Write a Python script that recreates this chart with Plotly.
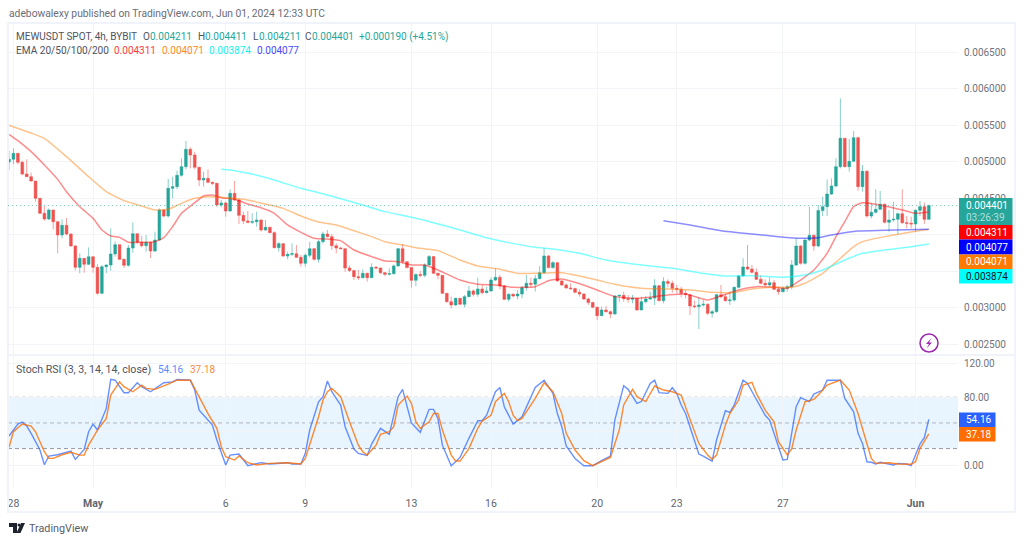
import pandas as pd
import plotly.graph_objects as go

W, H = 1024, 543
FONT = "Roboto"

# prices are in millionths of USDT
first_open = 4998
close = [5035,5117,4993,4833,4797,4737,4500,4294,4216,4340,
4179,3997,4129,4010,3846,3553,3676,3594,3699,3553,
3196,3562,3585,3736,3864,3663,3580,3818,4015,3896,
3850,3896,3777,3928,4340,4257,4637,4660,4815,4934,
5172,5094,4925,4751,4774,4719,4705,4408,4436,4326,
4568,4477,4266,4189,4170,4179,4202,4065,4102,4029,
3823,3878,3708,3731,3740,3690,3608,3718,3809,3663,
3905,4010,3974,3850,3818,3809,3544,3508,3425,3411,
3471,3411,3553,3544,3480,3457,3466,3572,3809,3631,
3549,3375,3453,3443,3585,3700,3471,3443,3197,3082,
3037,3128,3046,3151,3229,3183,3256,3206,3229,3379,
3416,3297,3114,3183,3160,3187,3274,3334,3320,3398,
3480,3709,3549,3617,3366,3311,3270,3261,3210,3187,
3119,3069,3005,2890,2968,2945,2913,3160,3169,3123,
3114,3128,2968,3082,3119,3132,3302,3096,3357,3334,
3265,3251,3196,3178,3023,3014,3036,3046,2922,2945,
3178,3151,3096,3105,3279,3434,3558,3530,3484,3388,
3334,3311,3343,3251,3219,3265,3288,3585,3846,3608,
3928,3992,3846,4331,4385,4559,4669,4934,5323,4934,
5007,5332,4660,4870,4257,4308,4349,4417,4170,4203,
4212,4289,4166,4157,4148,4335,4385,4211,4401]
high = [5153,5185,5117,5016,5035,4852,4737,4500,4394,4362,
4340,4184,4211,4230,4019,3859,3745,3676,3827,3699,
3599,3585,3594,4088,3905,3864,3676,3859,4170,4015,
3983,3996,3896,4042,4362,4349,4765,4797,4879,5048,
5286,5199,5140,4934,4865,4897,4728,4714,4477,4454,
4623,4737,4500,4317,4326,4294,4317,4211,4202,4111,
4047,3900,3882,3768,3882,3859,3722,3745,3905,3818,
3928,4042,4065,4010,3882,3837,3814,3581,3517,3517,
3526,3480,3608,3572,3549,3489,3540,3594,3818,3873,
3631,3549,3471,3503,3608,3722,3700,3480,3443,3197,
3151,3137,3128,3174,3297,3252,3411,3311,3288,3416,
3540,3448,3311,3197,3197,3242,3297,3448,3411,3448,
3572,3823,3722,3640,3626,3379,3334,3334,3274,3252,
3197,3137,3082,3014,3014,3023,2959,3174,3172,3219,
3174,3174,3128,3151,3160,3219,3390,3311,3416,3388,
3370,3311,3288,3242,3187,3096,3142,3105,3059,2968,
3187,3311,3187,3219,3288,3448,3677,3860,3585,3539,
3448,3388,3416,3379,3288,3288,3311,3654,3951,3855,
3937,4385,4001,4408,4523,4760,4774,5049,5872,5323,
5314,5424,5346,4957,4888,4440,4623,4600,4431,4340,
4454,4303,4623,4257,4248,4349,4463,4440,4411]
low = [4888,4966,4966,4815,4797,4728,4454,4285,4193,4202,
4074,3745,3951,3992,3836,3507,3471,3480,3585,3480,
3178,3187,3471,3507,3699,3654,3544,3562,3754,3873,
3827,3768,3681,3763,3919,4239,4239,4500,4623,4797,
4897,4911,4897,4669,4660,4705,4682,4385,4376,4248,
4317,4467,4147,4147,4157,4147,4111,4042,4056,4019,
3814,3768,3699,3663,3708,3681,3562,3562,3690,3644,
3617,3882,3964,3791,3745,3800,3494,3489,3379,3379,
3402,3357,3411,3526,3462,3434,3443,3453,3562,3608,
3540,3274,3297,3416,3416,3576,3462,3389,3187,3069,
2991,3023,3037,3005,3142,3151,3151,3183,3197,3220,
3366,3252,3105,3082,3142,3114,3128,3233,3279,3220,
3389,3462,3540,3535,3357,3297,3261,3242,3197,3151,
3105,3037,2991,2831,2886,2931,2854,2904,3082,3082,
3069,3059,2959,2968,3059,3105,3036,3087,3059,3279,
3206,3197,3142,3128,2899,2991,2707,3014,2899,2863,
2931,3128,3082,3036,3082,3265,3425,3517,3471,3379,
3320,3288,3288,3242,3174,3210,3219,3251,3571,3590,
3590,3910,3782,3828,4257,4257,4545,4651,4911,4925,
4866,5003,4605,4591,4235,4225,4294,4340,4157,4042,
4180,4001,4148,4088,4088,4042,4257,4148,4211]

ema20_bars = [0,2,5,8,11,13,16,19,21,23,25,27,29,31,33,35,37,39,42,44,46,48,51,54,57,60,63,66,69,73,75,78,82,85,88,91,94,97,102,106,110,114,119,122,125,128,133,137,142,149,153,158,161,165,169,173,176,179,182,185,187,189,191,193,197,202,205,208]
ema20_vals = [5378,5291,5140,4957,4760,4591,4385,4225,4065,3983,3964,3896,3896,3896,3905,3960,4111,4294,4440,4532,4545,4509,4486,4422,4371,4294,4134,4033,3951,3937,3919,3791,3700,3640,3631,3585,3585,3517,3379,3320,3311,3279,3288,3370,3393,3348,3242,3151,3128,3174,3187,3105,3160,3242,3288,3279,3265,3379,3516,3745,3974,4180,4386,4440,4408,4340,4294,4311]
ema50_bars = [0,3,5,8,13,18,22,26,30,33,36,39,42,45,49,53,58,62,66,70,74,78,82,85,89,93,97,102,106,111,115,120,125,129,133,137,143,149,154,159,164,168,173,177,180,184,188,191,193,198,203,208]
ema50_vals = [5502,5437,5395,5323,5071,4797,4591,4468,4394,4340,4349,4431,4500,4522,4509,4486,4422,4362,4257,4175,4134,4056,3974,3905,3860,3814,3782,3654,3572,3526,3471,3471,3480,3434,3379,3320,3265,3256,3242,3210,3210,3256,3279,3279,3334,3471,3677,3837,3905,3974,4029,4071]
ema100_bars = [48,51,55,60,66,70,76,80,85,91,96,102,108,113,119,123,129,135,143,150,156,162,168,175,180,184,189,193,198,203,208]
ema100_vals = [4897,4879,4833,4751,4637,4577,4477,4408,4317,4239,4166,4065,3960,3892,3828,3805,3745,3654,3585,3539,3480,3434,3439,3416,3448,3517,3654,3745,3791,3828,3874]
ema200_bars = [148,154,161,168,174,179,183,186,192,198,208]
ema200_vals = [4193,4134,4056,4010,3974,3951,3960,3997,4052,4061,4077]

k_bars = [0,2,3,4,5,7,8,9,11,14,15,17,18,19,20,22,23,24,26,27,29,30,32,35,37,38,41,42,43,45,46,47,49,50,52,54,57,59,63,64,66,67,68,70,71,72,73,75,76,78,79,81,82,84,85,86,88,89,91,93,95,96,97,98,100,102,104,106,107,108,110,111,112,114,116,118,119,121,123,124,125,126,128,130,132,134,136,137,139,140,142,143,145,146,147,149,150,151,152,153,156,157,159,160,162,163,164,166,167,171,172,175,176,178,179,181,182,184,185,188,189,191,192,193,194,195,196,197,200,201,203,204,206,207,208]
k_vals = [34.7,48.7,51,46.4,37.8,18.3,1.1,11.3,12.8,17,7.4,19,39.7,48.7,41.7,67,101,100,85.4,85.4,97,92.4,86.5,97,98,101,100,88.5,65,53.4,47.5,30,0.8,12.4,13.6,0,3.5,2,3.5,2,2,14.4,41.7,74.8,80.7,99,86.5,71,45.6,19.5,14.4,12,25.3,43.7,39.7,36.6,80.7,89.3,50,39,65.9,65.9,55.3,24,0,9.7,32,52.6,52.6,59,86.5,91.6,69,48.7,57.3,80.7,91.6,100,84.6,61,45.6,23,8.5,0,0,5.8,11.3,53.4,93.6,89.3,73,75,96.3,100,85.4,84.6,91.2,84.6,71,61,13.6,11.3,5.4,30,64.3,62.4,71,100,96.3,59,53.4,6.6,7.4,69,79.5,75,83.8,88.5,100,100,78.7,63,37.8,26,4.6,4,2,4,0.8,2.7,2,0,25.3,33,54.16]
d_bars = [0,1,3,5,6,8,9,10,12,14,16,17,18,20,22,23,25,26,28,30,31,33,36,38,41,42,45,47,48,49,51,52,54,56,59,63,66,67,68,70,71,72,73,75,77,79,80,81,83,84,86,87,88,90,91,92,93,95,96,97,98,100,101,102,104,106,107,109,110,112,113,114,115,116,119,121,123,125,126,128,130,132,134,136,138,139,141,142,144,146,148,150,152,154,156,158,159,160,162,163,165,166,168,169,171,173,174,176,177,178,180,182,183,185,188,190,192,194,195,196,199,201,204,205,206,208]
d_vals = [21.4,39.7,48.7,46.4,39.7,16.3,8.5,8.5,12.8,15.6,12.4,12.4,24,41.7,55.3,82.6,98,92.4,86.5,94.3,90.4,89.3,95.5,100,100,90.4,61,43.7,22.2,10.5,6.6,11.3,3.5,0.8,2.7,3.5,2,8.5,24,57.3,76.8,86.5,90.4,80.7,51.4,24,16.3,12.4,24,36.6,39.7,45.6,71,81.5,73,51.4,43.7,51.4,61,61,41.7,12.4,5.4,5.4,20,43.7,52.2,59,74.8,84.6,74.8,59,52.6,55.3,78.7,97,86.5,61,37.8,18.3,5.8,0,4.7,9.7,41.7,71,89.3,80.7,75,93.2,88.5,86.5,82.6,53.4,26,12.4,7.4,12.4,47.5,61,76.8,94.3,97.5,84.6,65,51.4,28,12.4,20,41.7,74.8,77.6,82.6,94.3,100,88.5,61,26,8.5,2.7,3.5,2,1.6,4.7,20,37.18]

price_ticks = [2500,3000,3500,4000,4500,5000,5500,6000,6500]
price_tick_labels = ["0.002500","0.003000","","","0.004500","0.005000","0.005500","0.006000","0.006500"]
stoch_ticks = [0,80,120]
stoch_tick_labels = ["0.00","80.00","120.00"]
day_ticks = ["2024-04-28","2024-05-01","2024-05-06","2024-05-09","2024-05-13","2024-05-16","2024-05-20","2024-05-23","2024-05-27","2024-06-01"]
day_labels = ["28","<b>May</b>","6","9","13","16","20","23","27","<b>Jun</b>"]

n = len(close)
times = pd.date_range("2024-04-27 20:00", periods=n, freq="4h")
opens = [first_open] + close[:n-1]
U = 1e-6
scale = lambda a: [v * U for v in a]

def bx(bar):
    return pd.Timestamp("2024-04-27 20:00") + pd.Timedelta(hours=4) * bar

def px(x): return x / W
def py(y): return 1 - y / H

GRID = "#f2f4f8"
XRANGE = [bx(-0.23), bx(214.6)]

fig = go.Figure()
fig.add_trace(go.Candlestick(
    x=times, open=scale(opens), high=scale(high), low=scale(low), close=scale(close),
    increasing=dict(line=dict(color="rgba(38,166,154,0.55)", width=1), fillcolor="#26a69a"),
    decreasing=dict(line=dict(color="rgba(239,83,80,0.55)", width=1), fillcolor="#ef5350"),
    whiskerwidth=0, xaxis="x", yaxis="y", showlegend=False))
for bars, vals, col in [(ema20_bars, ema20_vals, "rgba(255,0,0,0.45)"),
                        (ema50_bars, ema50_vals, "rgba(255,122,0,0.45)"),
                        (ema100_bars, ema100_vals, "rgba(0,255,255,0.5)"),
                        (ema200_bars, ema200_vals, "rgba(0,0,255,0.45)")]:
    fig.add_trace(go.Scatter(x=[bx(b) for b in bars], y=scale(vals), mode="lines",
                             line=dict(color=col, width=1.5, shape="spline", smoothing=0.5),
                             xaxis="x", yaxis="y", showlegend=False))
fig.add_trace(go.Scatter(x=[bx(b) for b in k_bars], y=k_vals, mode="lines",
                         line=dict(color="rgba(41,98,255,0.7)", width=1.4),
                         xaxis="x2", yaxis="y2", showlegend=False))
fig.add_trace(go.Scatter(x=[bx(b) for b in d_bars], y=d_vals, mode="lines",
                         line=dict(color="rgba(255,109,0,0.8)", width=1.4),
                         xaxis="x2", yaxis="y2", showlegend=False))

shapes = []
def rect(x0, y0, x1, y1, fill, line=None, lw=0, layer="above"):
    shapes.append(dict(type="rect", xref="paper", yref="paper", x0=px(x0), x1=px(x1), y0=py(y0), y1=py(y1),
                       fillcolor=fill, line=dict(color=line or fill, width=lw), layer=layer))
# frame and pane divider
rect(8, 23, 1015, 512, "rgba(0,0,0,0)", "#f0f3fa", 2)
shapes.append(dict(type="line", xref="paper", yref="paper", x0=px(8), x1=px(1015), y0=py(355), y1=py(355),
                   line=dict(color="#f0f3fa", width=2)))
# stoch band + levels
shapes.append(dict(type="rect", xref="paper", yref="y2", x0=px(8), x1=px(958), y0=20, y1=80,
                   fillcolor="rgba(33,150,243,0.1)", line=dict(width=0), layer="below"))
shapes.append(dict(type="line", xref="paper", yref="y2", x0=px(8), x1=px(958), y0=40, y1=40,
                   line=dict(color=GRID, width=1), layer="below"))
for lv in (20, 50, 80):
    shapes.append(dict(type="line", xref="paper", yref="y2", x0=px(8), x1=px(958), y0=lv, y1=lv,
                       line=dict(color="#9598a1" if lv != 50 else "#b2b5be", width=1, dash="4px,3px"), layer="between"))
# last-price line
shapes.append(dict(type="line", xref="paper", yref="y", x0=px(8), x1=px(958), y0=close[n-1]*U, y1=close[n-1]*U,
                   line=dict(color="rgba(38,166,154,0.6)", width=1, dash="1px,3px")))

anns = []
def text(x, y, s, size=10, color="#50535e"):
    # x is where the glyphs start; annotations carry about 2px of padding
    anns.append(dict(xref="paper", yref="paper", x=px(x - 2), y=py(y), text=s, showarrow=False, xanchor="left",
                     yanchor="middle", align="left", font=dict(family=FONT, size=size, color=color)))
def tag(x0, x1, y0, y1, bg, s, fg="#ffffff"):
    rect(x0, y0, x1, y1, bg)
    text(966, (y0 + y1) / 2, s, 10, fg)

tag(959, 1012.5, 198, 225, "#26a69a", "0.004401", "#ffffff")
anns[-1]["y"] = py(206)
text(966, 217.5, "03:26:39", 10, "rgba(255,255,255,0.65)")
tag(959, 1012.5, 225, 239.5, "#ff0000", "0.004311")
tag(959, 1012.5, 239.5, 254.5, "#0000ff", "0.004077")
tag(959, 1012.5, 254.5, 269, "#ff7a00", "0.004071")
tag(959, 1012.5, 269, 283.5, "#00ffff", "0.003874", "#131722")
tag(959, 995.5, 412.5, 427, "#2962ff", "54.16")
tag(959, 995.5, 427, 441.5, "#ff6d00", "37.18")

teal = "#26a69a"
LBL = "#50535e"
text(9, 13.5, "adebowalexy published on TradingView.com, Jun 01, 2024 12:33 UTC", 10.3, "#6a6d78")
text(15.7, 36.5, "MEWUSDT SPOT, 4h, BYBIT", 10, LBL)
for x, s, col in [(143.3, "O", LBL), (150, "0.004211", teal), (198, "H", LBL), (205, "0.004411", teal),
                  (252.7, "L", LBL), (259, "0.004211", teal), (305, "C", LBL), (311.7, "0.004401", teal),
                  (359, "+0.000190 (+4.51%)", teal)]:
    text(x, 36.5, s, 10, col)
text(15.7, 51, "EMA 20/50/100/200", 10.1, LBL)
for x, s, col in [(114, "0.004311", "#ff3b3b"), (161.7, "0.004071", "#ff8a1f"), (209, "0.003874", "#19f0f0"), (257, "0.004077", "#4a4aff")]:
    text(x, 51, s, 10, col)
text(15.7, 369, "Stoch RSI (3, 3, 14, 14, close)", 10.6, LBL)
text(157.7, 369, "54.16", 10, "#5b8cff")
text(189.7, 369, "37.18", 10, "#ff8a3d")
text(29, 528, "TradingView", 10.8, "#5a5d68")

# lightning badge
shapes.append(dict(type="circle", xref="paper", yref="paper", x0=px(920), x1=px(938), y0=py(352), y1=py(334),
                   fillcolor="#ffffff", line=dict(color="#9c27b0", width=1.5)))
def path(points):
    return "M" + " L".join(f"{px(a):.5f},{py(b):.5f}" for a, b in points) + " Z"
shapes.append(dict(type="path", xref="paper", yref="paper",
                   path=path([(931.5,338),(926,344),(929,344),(926.5,348.5),(932,342.5),(929,342.5)]),
                   fillcolor="#9c27b0", line=dict(width=0)))
# TradingView mark
shapes.append(dict(type="path", xref="paper", yref="paper",
                   path=path([(9,523),(17,523),(17,533),(13,533),(13,527),(9,527)]),
                   fillcolor="#1e222d", line=dict(width=0)))
shapes.append(dict(type="circle", xref="paper", yref="paper", x0=px(17.5), x1=px(20.5), y0=py(526.5), y1=py(523.5),
                   fillcolor="#1e222d", line=dict(width=0)))
shapes.append(dict(type="path", xref="paper", yref="paper",
                   path=path([(21,523),(25,523),(20.5,533),(16.5,533)]),
                   fillcolor="#1e222d", line=dict(width=0)))

fig.update_layout(
    width=W, height=H, margin=dict(l=0, r=0, t=0, b=0), autosize=False, boxgap=0.12,
    paper_bgcolor="#ffffff", plot_bgcolor="#ffffff", showlegend=False, hovermode=False,
    font=dict(family=FONT, size=10, color="#666a75"), shapes=shapes, annotations=anns,
    xaxis=dict(domain=[px(8), px(958)], range=XRANGE, type="date", anchor="y", rangeslider=dict(visible=False),
               tickvals=day_ticks, ticktext=[""]*len(day_ticks), showgrid=True, gridcolor=GRID, gridwidth=1,
               zeroline=False, showline=False, ticks=""),
    yaxis=dict(domain=[py(354), py(23)], range=[2364*U, 6905*U], side="right", anchor="x",
               tickvals=scale(price_ticks), ticktext=price_tick_labels, showgrid=True, gridcolor=GRID, zeroline=False,
               showline=False, ticks="", ticklabelstandoff=5, tickfont=dict(size=10, color="#70737e")),
    xaxis2=dict(domain=[px(8), px(958)], range=XRANGE, type="date", anchor="y2", matches="x",
                tickvals=day_ticks, ticktext=day_labels, showgrid=True, gridcolor=GRID, zeroline=False,
                showline=False, ticks="", ticklabelstandoff=7, tickangle=0,
                tickfont=dict(size=10.5, color="#62656f")),
    yaxis2=dict(domain=[py(488), py(356)], range=[-26.1, 128.3], side="right", anchor="x2",
                tickvals=stoch_ticks, ticktext=stoch_tick_labels, showgrid=True, gridcolor=GRID, zeroline=False,
                showline=False, ticks="", ticklabelstandoff=5, tickfont=dict(size=10, color="#70737e")),
)
fig.write_html("out.html", post_script="document.body.style.margin='0';document.documentElement.style.overflow='hidden';",
               config=dict(displayModeBar=False))
